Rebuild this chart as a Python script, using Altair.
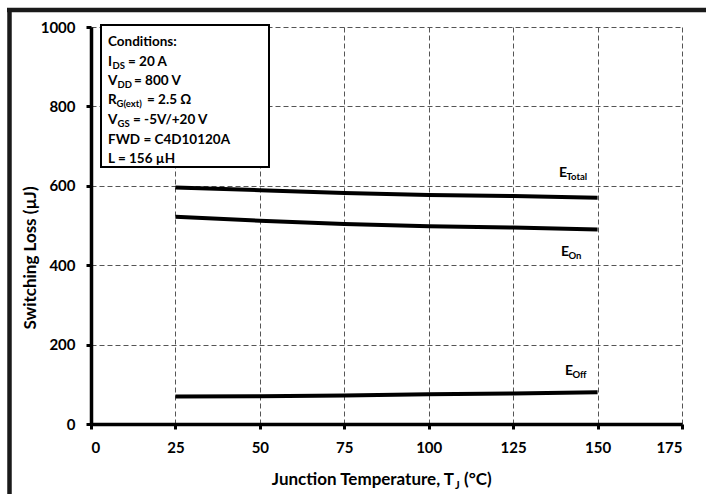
import altair as alt
import pandas as pd

# ---- data ----
temps = [25, 50, 75, 100, 125, 150]
e_total = [596, 589, 582, 577, 574, 570]
e_on = [522, 512, 504, 498, 495, 490]
e_off = [69, 70, 72, 75, 77, 80]

x_ticks = [0, 25, 50, 75, 100, 125, 150, 175]
y_ticks = [0, 200, 400, 600, 800, 1000]

# ---- layout helpers (plot area in pixels) ----
W, H = 591, 397
PL, PT = 91, 27
XMAX, YMAX = 175, 1000


def xd(px):
    return (px - PL) / W * XMAX


def yd(py):
    return (PT + H - py) / H * YMAX


FONT = "Lato"

rows = []
for name, vals in [("E_Total", e_total), ("E_On", e_on), ("E_Off", e_off)]:
    for t, v in zip(temps, vals):
        rows.append({"T": t, "E": v, "series": name})
df = pd.DataFrame(rows)

x_scale = alt.Scale(domain=[0, XMAX], nice=False, zero=False)
y_scale = alt.Scale(domain=[0, YMAX], nice=False, zero=False)

base = alt.Chart(df)

lines = base.mark_line(color="black", strokeWidth=4).encode(
    x=alt.X("T:Q", scale=x_scale,
            axis=alt.Axis(values=x_ticks, title=None, grid=True, format="d")),
    y=alt.Y("E:Q", scale=y_scale,
            axis=alt.Axis(values=y_ticks, title=None, grid=True, format="d")),
    detail="series:N",
)

# conditions box
box_df = pd.DataFrame({"x1": [xd(101)], "x2": [xd(269)],
                       "y1": [yd(25)], "y2": [yd(167)]})
box = alt.Chart(box_df).mark_rect(fill="white", stroke="black", strokeWidth=2).encode(
    x=alt.X("x1:Q", scale=x_scale), x2="x2:Q",
    y=alt.Y("y1:Q", scale=y_scale), y2="y2:Q",
)

# text pieces: (text, px, baseline py, size)
main_size = 13.5
sub_size = 9.5
pieces = [
    ("Conditions:", 108, 46, main_size),
    ("I", 108, 65.5, main_size), ("DS", 112.5, 68.5, sub_size), ("= 20 A", 128, 65.5, main_size),
    ("V", 108, 85, main_size), ("DD", 117.5, 88, sub_size), ("= 800 V", 134, 85, main_size),
    ("R", 108, 104, main_size), ("G(ext)", 116.5, 107, sub_size), ("= 2.5 Ω", 147, 104, main_size),
    ("V", 108, 124, main_size), ("GS", 117.5, 127, sub_size), ("= -5V/+20 V", 133, 124, main_size),
    ("FWD = C4D10120A", 108, 144, main_size),
    ("L = 156 µH", 108, 163, main_size),
    # curve labels
    ("E", 559, 176.5, 14), ("Total", 566.5, 179.5, 9.5),
    ("E", 561, 256, 14), ("On", 568.5, 259, 9.5),
    ("E", 565, 375, 14), ("Off", 572.5, 378, 9.5),
    # x-axis title
    ("J", 455, 489, 11),
    ("(°C)", 464, 485, 17),
]
txt_df = pd.DataFrame([{"t": t, "x": xd(px), "y": yd(py), "s": s} for t, px, py, s in pieces])
texts = alt.Chart(txt_df).mark_text(
    align="left", baseline="alphabetic", font=FONT, fontWeight="bold", color="black"
).encode(
    x=alt.X("x:Q", scale=x_scale), y=alt.Y("y:Q", scale=y_scale),
    text="t:N", size=alt.Size("s:Q", scale=None, legend=None),
)

xtitle_df = pd.DataFrame({"t": ["Junction Temperature, T"], "x": [xd(454)], "y": [yd(485)]})
xtitle = alt.Chart(xtitle_df).mark_text(
    align="right", baseline="alphabetic", font=FONT, fontWeight="bold", fontSize=17, color="black"
).encode(x=alt.X("x:Q", scale=x_scale), y=alt.Y("y:Q", scale=y_scale), text="t:N")

ytitle_df = pd.DataFrame({"t": ["Switching Loss (µJ)"], "x": [xd(36)], "y": [yd(258)]})
ytitle = alt.Chart(ytitle_df).mark_text(
    align="center", baseline="alphabetic", angle=270, font=FONT, fontWeight="bold",
    fontSize=17, color="black"
).encode(x=alt.X("x:Q", scale=x_scale), y=alt.Y("y:Q", scale=y_scale), text="t:N")

# decorative frame of the screenshot (top and left edges)
one = pd.DataFrame({"a": [0]})
frame_top = alt.Chart(one).mark_rule(color="#1a1a1a", strokeWidth=4.5).encode(
    x=alt.value(-84), x2=alt.value(706 - PL), y=alt.value(10 - PT))
frame_left = alt.Chart(one).mark_rule(color="#1a1a1a", strokeWidth=4.5).encode(
    x=alt.value(9.5 - PL), y=alt.value(8 - PT), y2=alt.value(494 - PT))

chart = alt.layer(lines, box, texts, xtitle, ytitle, frame_top, frame_left).properties(
    width=W, height=H,
    autosize=alt.AutoSizeParams(type="none"),
    padding={"left": PL, "top": PT, "right": 706 - PL - W, "bottom": 494 - PT - H},
    background="white",
).configure_view(stroke=None).configure_axis(
    domainColor="black", domainWidth=3.5,
    tickColor="black", tickWidth=3, tickSize=5,
    gridColor="#555555", gridDash=[5, 3], gridWidth=1, gridOpacity=1,
    labelFont=FONT, labelFontWeight="bold", labelFontSize=15, labelColor="black",
).configure_axisY(labelPadding=11).configure_axisX(labelPadding=11)

chart.save("out.html", embed_options={"renderer": "svg", "actions": False})
